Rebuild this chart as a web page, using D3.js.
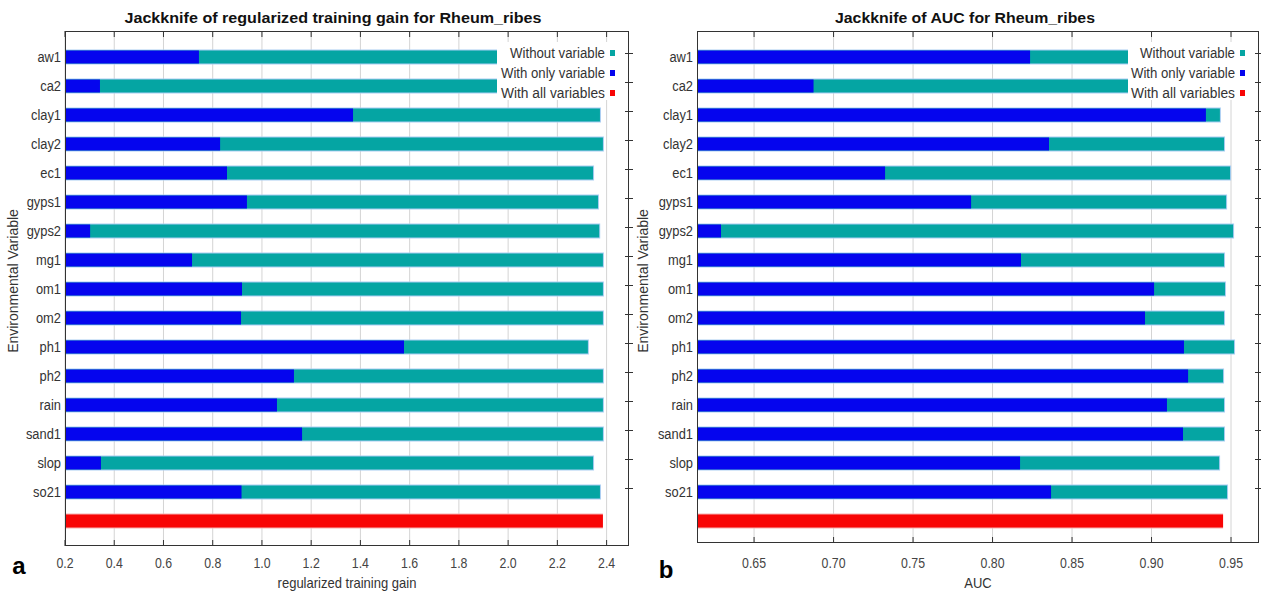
<!DOCTYPE html>
<html>
<head>
<meta charset="utf-8">
<script src="https://cdn.jsdelivr.net/npm/d3@7/dist/d3.min.js"></script>
<style>
  html, body { margin: 0; padding: 0; background: #fff; }
  svg { display: block; font-family: "Liberation Sans", Arial, sans-serif; }
</style>
</head>
<body>
<svg id="chart" width="1261" height="592"></svg>
<script>
// Environmental variables tested in the jackknife
const categories = ["aw1", "ca2", "clay1", "clay2", "ec1", "gyps1", "gyps2", "mg1",
  "om1", "om2", "ph1", "ph2", "rain", "sand1", "slop", "so21"];

// Regularized training gain
const gainWithout = [2.37, 2.38, 2.373, 2.385, 2.345, 2.365, 2.37, 2.385,
  2.385, 2.385, 2.324, 2.385, 2.385, 2.385, 2.345, 2.373];
const gainOnly = [0.744, 0.342, 1.37, 0.83, 0.858, 0.939, 0.302, 0.716,
  0.919, 0.915, 1.577, 1.13, 1.061, 1.163, 0.346, 0.917];
const gainAll = 2.385;
const gainTicks = [0.2, 0.4, 0.6, 0.8, 1.0, 1.2, 1.4, 1.6, 1.8, 2.0, 2.2, 2.4];

// AUC
const aucWithout = [0.946, 0.947, 0.943, 0.9456, 0.9494, 0.9469, 0.9513, 0.9456,
  0.9462, 0.9456, 0.9519, 0.945, 0.9456, 0.9456, 0.9425, 0.9475];
const aucOnly = [0.8236, 0.6874, 0.9342, 0.8355, 0.7324, 0.7865, 0.6292, 0.8179,
  0.9016, 0.8959, 0.9204, 0.923, 0.9097, 0.9198, 0.8173, 0.8368];
const aucAll = 0.945;
const aucTicks = [0.65, 0.70, 0.75, 0.80, 0.85, 0.90, 0.95];

const legendItems = ["Without variable", "With only variable", "With all variables"];
const colors = { without: "#05a5a3", only: "#0505ee", all: "#f80505" };

const svg = d3.select("#chart");

// horizontal squeeze around an anchor x, for the narrow lettering
const squeeze = (x0, s) => `translate(${x0},0) scale(${s},1) translate(${-x0},0)`;

function panel(cfg) {
  const g = svg.append("g");
  const x = d3.scaleLinear().domain(cfg.domain).range([cfg.left, cfg.right]);
  const rows = categories.concat(["__all__"]);
  const y = d3.scaleBand().domain(rows).range([42.5, 535.5]);
  const barH = 13;
  const yc = d => y(d) + y.bandwidth() / 2;
  const x0 = x(cfg.domain[0]);

  // title
  g.append("text")
    .attr("x", cfg.titleX).attr("y", 23)
    .attr("text-anchor", "middle")
    .attr("font-size", 15).attr("font-weight", "bold").attr("fill", "#111")
    .attr("textLength", cfg.titleLen).attr("lengthAdjust", "spacingAndGlyphs")
    .text(cfg.title);

  // vertical grid
  g.append("g").selectAll("line").data(cfg.ticks).join("line")
    .attr("x1", d => x(d)).attr("x2", d => x(d))
    .attr("y1", cfg.top).attr("y2", cfg.bottom)
    .attr("stroke", "#d4d4d4").attr("stroke-width", 1);

  const data = categories.map((c, i) => ({ c, without: cfg.without[i], only: cfg.only[i] }));

  // soft edge around the bars
  g.append("g").selectAll("rect").data(data).join("rect")
    .attr("x", x0).attr("y", d => yc(d.c) - barH / 2 - 1)
    .attr("width", d => x(Math.max(d.without, d.only)) - x0 + 1)
    .attr("height", barH + 2)
    .attr("fill", "#a9cdf2");

  // without variable
  g.append("g").selectAll("rect").data(data).join("rect")
    .attr("x", x0).attr("y", d => yc(d.c) - barH / 2)
    .attr("width", d => x(d.without) - x0)
    .attr("height", barH).attr("fill", colors.without);

  // with only variable
  g.append("g").selectAll("rect").data(data).join("rect")
    .attr("x", x0).attr("y", d => yc(d.c) - barH / 2)
    .attr("width", d => x(d.only) - x0)
    .attr("height", barH).attr("fill", colors.only);

  // with all variables
  g.append("rect")
    .attr("x", x0).attr("y", yc("__all__") - barH / 2 - 1)
    .attr("width", x(cfg.all) - x0).attr("height", barH + 2)
    .attr("fill", "#f7b0b0");
  g.append("rect")
    .attr("x", x0).attr("y", yc("__all__") - barH / 2)
    .attr("width", x(cfg.all) - x0).attr("height", barH)
    .attr("fill", colors.all);

  // legend with opaque background
  const lg = g.append("g");
  lg.append("rect")
    .attr("x", cfg.legendX).attr("y", 42)
    .attr("width", cfg.right - 6 - cfg.legendX).attr("height", 58)
    .attr("fill", "#fff");
  const keys = ["without", "only", "all"];
  legendItems.forEach((t, i) => {
    const ly = 53 + i * 20;
    lg.append("text")
      .attr("x", cfg.right - 24).attr("y", ly + 5)
      .attr("text-anchor", "end").attr("font-size", 14).attr("fill", "#333")
      .attr("textLength", cfg.legendLens[i]).attr("lengthAdjust", "spacingAndGlyphs")
      .text(t);
    lg.append("rect")
      .attr("x", cfg.right - 19).attr("y", ly - 3)
      .attr("width", 5).attr("height", 6)
      .attr("fill", colors[keys[i]]);
  });

  // frame
  g.append("rect")
    .attr("x", cfg.left + 0.5).attr("y", cfg.top + 0.5)
    .attr("width", cfg.right - cfg.left - 1).attr("height", cfg.bottom - cfg.top - 1)
    .attr("fill", "none").attr("stroke", "#333").attr("stroke-width", 1);

  // inner tick marks on top and bottom edges
  const tg = g.append("g").attr("stroke", "#333");
  cfg.ticks.forEach(t => {
    tg.append("line").attr("x1", x(t)).attr("x2", x(t))
      .attr("y1", cfg.top).attr("y2", cfg.top + 6);
    tg.append("line").attr("x1", x(t)).attr("x2", x(t))
      .attr("y1", cfg.bottom - 6).attr("y2", cfg.bottom);
  });
  // tick marks on the right edge
  categories.forEach(c => {
    tg.append("line").attr("x1", cfg.right - 4).attr("x2", cfg.right + 4)
      .attr("y1", Math.round(yc(c)) - 3.5).attr("y2", Math.round(yc(c)) - 3.5);
  });

  // x tick labels
  const fmt = d3.format(cfg.fmt);
  g.append("g").selectAll("text").data(cfg.ticks).join("text")
    .attr("x", d => x(d)).attr("y", 568)
    .attr("text-anchor", "middle").attr("font-size", 14).attr("fill", "#444")
    .attr("transform", d => squeeze(x(d), 0.88))
    .text(d => fmt(d));

  // category labels
  const lx = cfg.left - 4;
  g.append("g").selectAll("text").data(categories).join("text")
    .attr("x", lx).attr("y", d => yc(d) + 5)
    .attr("text-anchor", "end").attr("font-size", 14).attr("fill", "#333")
    .attr("transform", squeeze(lx, 0.92))
    .text(d => d);

  // axis titles
  const cx = (cfg.left + cfg.right) / 2;
  g.append("text")
    .attr("x", cx).attr("y", 588)
    .attr("text-anchor", "middle").attr("font-size", 14).attr("fill", "#333")
    .attr("transform", squeeze(cx, 0.93))
    .text(cfg.xTitle);
  g.append("text")
    .attr("transform", `translate(${cfg.yTitleX},281) rotate(-90)`)
    .attr("text-anchor", "middle").attr("font-size", 14).attr("fill", "#333")
    .text("Environmental Variable");

  // panel letter
  g.append("text")
    .attr("x", cfg.letterX).attr("y", cfg.letterY)
    .attr("text-anchor", "middle").attr("font-size", 24).attr("font-weight", "bold")
    .attr("fill", "#000")
    .text(cfg.letter);
}

panel({
  title: "Jackknife of regularized training gain for Rheum_ribes",
  titleX: 333, titleLen: 417,
  left: 65, right: 629, top: 31, bottom: 546,
  domain: [0.2, 2.491], ticks: gainTicks, fmt: ".1f",
  without: gainWithout, only: gainOnly, all: gainAll,
  legendX: 497, legendLens: [95, 104, 104],
  xTitle: "regularized training gain", yTitleX: 18,
  letter: "a", letterX: 19, letterY: 574
});

panel({
  title: "Jackknife of AUC for Rheum_ribes",
  titleX: 965, titleLen: 260,
  left: 697, right: 1259, top: 31, bottom: 543,
  domain: [0.6141, 0.9676], ticks: aucTicks, fmt: ".2f",
  without: aucWithout, only: aucOnly, all: aucAll,
  legendX: 1128, legendLens: [95, 104, 104],
  xTitle: "AUC", yTitleX: 648,
  letter: "b", letterX: 666, letterY: 578
});
</script>
</body>
</html>
